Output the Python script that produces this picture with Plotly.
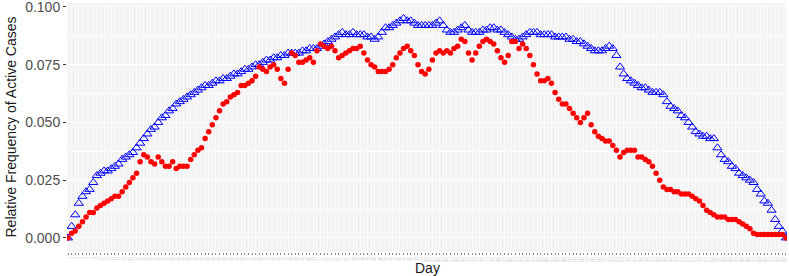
import plotly.graph_objects as go

days = list(range(1, 201))

expected = [
    0.000, 0.005, 0.010, 0.015, 0.018, 0.020, 0.021, 0.024, 0.027, 0.028,
    0.029, 0.029, 0.030, 0.031, 0.032, 0.034, 0.035, 0.036, 0.037, 0.039,
    0.041, 0.043, 0.045, 0.047, 0.048, 0.050, 0.052, 0.053, 0.055, 0.056,
    0.058, 0.059, 0.060, 0.061, 0.062, 0.063, 0.064, 0.065, 0.066, 0.066,
    0.067, 0.068, 0.068, 0.069, 0.069, 0.070, 0.071, 0.071, 0.072, 0.073,
    0.073, 0.074, 0.075, 0.075, 0.076, 0.077, 0.077, 0.078, 0.078, 0.079,
    0.079, 0.080, 0.080, 0.080, 0.080, 0.081, 0.081, 0.082, 0.082, 0.082,
    0.083, 0.084, 0.085, 0.086, 0.087, 0.088, 0.089, 0.088, 0.088, 0.089,
    0.088, 0.088, 0.088, 0.087, 0.087, 0.086, 0.087, 0.089, 0.091, 0.091,
    0.092, 0.093, 0.094, 0.095, 0.094, 0.094, 0.093, 0.092, 0.092, 0.092,
    0.092, 0.092, 0.093, 0.094, 0.092, 0.090, 0.089, 0.089, 0.090, 0.091,
    0.092, 0.090, 0.089, 0.089, 0.089, 0.090, 0.090, 0.091, 0.091, 0.090,
    0.090, 0.089, 0.088, 0.087, 0.086, 0.086, 0.087, 0.088, 0.089, 0.089,
    0.089, 0.088, 0.088, 0.088, 0.088, 0.087, 0.087, 0.087, 0.087, 0.086,
    0.086, 0.085, 0.085, 0.084, 0.083, 0.082, 0.081, 0.081, 0.081, 0.082,
    0.083, 0.082, 0.079, 0.074, 0.071, 0.069, 0.068, 0.067, 0.066, 0.065,
    0.065, 0.064, 0.063, 0.063, 0.063, 0.062, 0.059, 0.057, 0.056, 0.055,
    0.053, 0.052, 0.050, 0.048, 0.046, 0.045, 0.044, 0.044, 0.043, 0.043,
    0.039, 0.036, 0.034, 0.033, 0.031, 0.030, 0.028, 0.027, 0.026, 0.025,
    0.024, 0.021, 0.019, 0.016, 0.015, 0.012, 0.008, 0.005, 0.003, 0.000,
]

observed = [
    0.000, 0.002, 0.003, 0.005, 0.007, 0.009, 0.011, 0.011, 0.013, 0.014,
    0.015, 0.016, 0.017, 0.018, 0.018, 0.020, 0.022, 0.024, 0.026, 0.028,
    0.033, 0.036, 0.035, 0.033, 0.032, 0.035, 0.033, 0.031, 0.031, 0.033,
    0.030, 0.031, 0.031, 0.031, 0.034, 0.036, 0.038, 0.039, 0.043, 0.046,
    0.049, 0.052, 0.055, 0.058, 0.059, 0.061, 0.062, 0.063, 0.066, 0.066,
    0.067, 0.068, 0.070, 0.074, 0.073, 0.072, 0.074, 0.075, 0.073, 0.069,
    0.067, 0.073, 0.080, 0.079, 0.076, 0.076, 0.077, 0.078, 0.076, 0.081,
    0.084, 0.083, 0.082, 0.083, 0.081, 0.078, 0.079, 0.080, 0.081, 0.082,
    0.082, 0.083, 0.080, 0.077, 0.075, 0.074, 0.072, 0.072, 0.072, 0.073,
    0.075, 0.078, 0.080, 0.082, 0.083, 0.081, 0.079, 0.075, 0.072, 0.071,
    0.073, 0.077, 0.080, 0.081, 0.080, 0.081, 0.080, 0.082, 0.083, 0.086,
    0.085, 0.080, 0.077, 0.080, 0.083, 0.085, 0.086, 0.085, 0.084, 0.081,
    0.078, 0.076, 0.079, 0.085, 0.085, 0.082, 0.084, 0.082, 0.079, 0.075,
    0.071, 0.068, 0.068, 0.069, 0.067, 0.063, 0.060, 0.058, 0.058, 0.056,
    0.054, 0.052, 0.050, 0.052, 0.054, 0.049, 0.046, 0.044, 0.043, 0.042,
    0.042, 0.040, 0.038, 0.035, 0.037, 0.038, 0.038, 0.038, 0.035, 0.035,
    0.034, 0.033, 0.031, 0.028, 0.025, 0.022, 0.021, 0.021, 0.020, 0.020,
    0.019, 0.019, 0.019, 0.018, 0.017, 0.016, 0.014, 0.012, 0.011, 0.010,
    0.009, 0.009, 0.009, 0.008, 0.008, 0.008, 0.007, 0.006, 0.005, 0.004,
    0.002, 0.0015, 0.0015, 0.0015, 0.0015, 0.0015, 0.0015, 0.0015, 0.0015, 0.000,
]

y_ticks = [0.000, 0.025, 0.050, 0.075, 0.100]
y_tick_labels = ["0.000", "0.025", "0.050", "0.075", "0.100"]
y_minor = [0.0125, 0.0375, 0.0625, 0.0875]

fig = go.Figure()
fig.add_trace(go.Scatter(
    x=days, y=expected, mode="markers",
    marker=dict(symbol="triangle-up-open", color="blue", size=8, line=dict(width=1)),
    showlegend=False, hoverinfo="skip"))
fig.add_trace(go.Scatter(
    x=days, y=observed, mode="markers",
    marker=dict(symbol="circle", color="red", size=5.5, line=dict(width=0)),
    showlegend=False, hoverinfo="skip"))

font = "Liberation Sans, Arial, sans-serif"

fig.update_layout(
    width=789, height=276,
    margin=dict(l=67, r=2, t=3, b=24),
    paper_bgcolor="white",
    plot_bgcolor="#F3F3F3",
    font=dict(family=font, color="#4D4D4D"),
    xaxis=dict(
        range=[days[0] - 0.28, days[-1] + 0.28],
        tickmode="array", tickvals=days, ticktext=[str(d) for d in days],
        tickfont=dict(size=3, color="#C8C8C8"),
        ticks="outside", ticklen=2, tickcolor="#8A8A8A", tickwidth=1.2,
        showgrid=True, gridcolor="#FAFAFA", gridwidth=1,
        zeroline=False, showline=False, automargin=False,
    ),
    yaxis=dict(
        range=[-0.0061, 0.1017],
        tickmode="array", tickvals=y_ticks, ticktext=y_tick_labels,
        tickfont=dict(size=14, color="#4D4D4D"),
        ticklabeloverflow="allow",
        ticks="outside", ticklen=3, tickcolor="#333333", tickwidth=1,
        showgrid=True, gridcolor="white", gridwidth=1.2,
        minor=dict(tickvals=y_minor, showgrid=True, gridcolor="white", gridwidth=0.6, ticks=""),
        zeroline=False, showline=False, automargin=False,
    ),
    annotations=[
        dict(text="Day", xref="paper", yref="paper", x=0.5, y=0,
             xanchor="center", yanchor="middle", yshift=-16, showarrow=False,
             font=dict(size=14, color="#1A1A1A", family=font)),
        dict(text="Relative Frequency of Active Cases", xref="paper", yref="paper",
             x=0, y=0.5, xanchor="center", yanchor="middle", xshift=-57, textangle=-90,
             showarrow=False, font=dict(size=14, color="#1A1A1A", family=font)),
    ],
)

fig.write_html("out.html", config={"displayModeBar": False},
               post_script="document.body.style.margin='0';document.body.style.overflow='hidden';")
